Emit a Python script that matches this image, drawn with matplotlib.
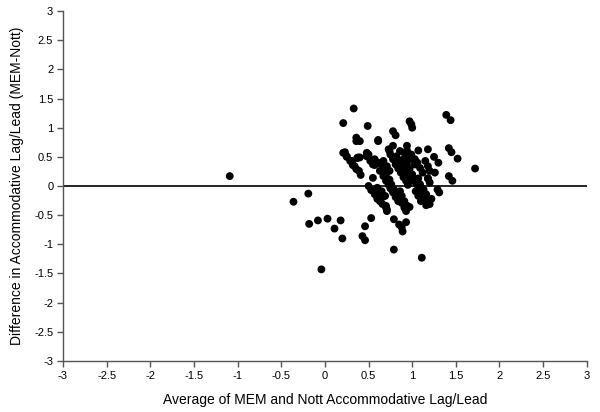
import matplotlib
matplotlib.use("Agg")
import matplotlib.pyplot as plt

plt.rcParams['font.family'] = ['Liberation Sans', 'DejaVu Sans']

# Average of MEM and Nott (x) and difference MEM-Nott (y)
avg_vals = [
    -1.09, -0.36, -0.19, -0.18, -0.08, 0.03, 0.18, 0.11, 0.20, -0.04,
    0.33, 0.21, 0.36, 0.36, 0.23, 0.25, 0.29, 0.32, 0.36, 0.37,
    0.21, 0.25, 0.31, 0.34, 0.39, 0.41, 0.38, 0.50, 0.52, 0.55,
    0.48, 0.48, 0.40, 0.40, 0.55, 0.57, 0.55, 0.57, 0.61, 0.61,
    0.49, 0.61, 0.78, 0.81, 0.97, 0.99, 1.00, 0.94, 0.94, 0.78,
    1.07, 1.18, 1.39, 1.44, 1.42, 1.45, 1.52, 1.72, 1.25, 1.30,
    1.26, 1.42, 1.46, 1.18, 1.07,
    0.53, 0.46, 0.43, 0.46, 0.79, 0.85, 0.88, 0.89, 0.93, 0.79, 1.11,
    1.29, 1.31, 1.22, 1.16, 0.70, 0.71, 0.94, 0.97,
    0.50, 0.53, 0.57, 0.60, 0.63, 0.66, 0.70, 0.71, 0.65,
    0.65, 0.68, 0.70, 0.74, 0.76, 0.79, 0.82, 0.84, 0.88, 0.91, 0.93,
    0.74, 0.82, 0.86, 0.90, 0.94, 0.97, 1.01, 1.05,
    0.86, 0.92, 0.97, 1.03,
    0.90, 0.94, 0.97, 1.00, 1.03, 1.06, 1.09, 1.12, 1.15,
    0.99, 1.03, 1.06, 1.09, 1.12,
    0.86, 0.88, 0.91, 0.94,
    0.63, 0.67, 0.70, 0.73, 0.75, 0.78, 0.81, 0.84,
    0.73, 0.75, 0.78, 0.81, 0.84, 0.87, 0.90, 0.93, 0.95,
    0.67, 0.71, 0.74,
    0.60, 0.63, 0.66,
    1.04, 1.07, 1.10, 0.69,
    1.15, 1.18, 1.20, 1.18, 1.20,
    1.09, 1.13, 1.16, 1.18, 1.20,
]
diff_vals = [
    0.17, -0.27, -0.13, -0.65, -0.59, -0.56, -0.59, -0.73, -0.90, -1.43,
    1.33, 1.08, 0.83, 0.77, 0.58, 0.51, 0.43, 0.36, 0.29, 0.48,
    0.57, 0.50, 0.43, 0.34, 0.26, 0.19, 0.49, 0.54, 0.43, 0.37,
    0.57, 0.51, 0.77, 0.49, 0.42, 0.36, 0.14, 0.46, 0.40, 0.79,
    1.03, 0.77, 0.94, 0.87, 1.11, 1.06, 1.00, 0.69, 0.61, 0.69,
    0.61, 0.63, 1.22, 1.13, 0.65, 0.58, 0.47, 0.30, 0.50, 0.40,
    0.23, 0.17, 0.09, 0.13, 0.13,
    -0.55, -0.69, -0.86, -0.93, -0.57, -0.66, -0.71, -0.78, -0.62, -1.09, -1.23,
    -0.06, -0.11, -0.22, -0.33, -0.34, -0.40, -0.34, -0.36,
    0.00, -0.07, -0.14, -0.22, -0.26, -0.31, -0.37, -0.43, -0.09,
    0.37, 0.29, 0.20, 0.11, 0.03, -0.06, -0.13, -0.20, -0.29, -0.37, -0.43,
    0.60, 0.51, 0.43, 0.34, 0.26, 0.17, 0.09, 0.03,
    0.60, 0.54, 0.46, 0.37,
    0.46, 0.37, 0.29, 0.20, 0.11, 0.03, -0.06, -0.14, -0.23,
    0.54, 0.46, 0.40, 0.31, 0.23,
    -0.09, -0.17, -0.26, -0.34,
    0.26, 0.17, 0.09, 0.02, -0.04, -0.11, -0.19, -0.26,
    0.63, 0.54, 0.46, 0.37, 0.30, 0.23, 0.15, 0.09, 0.02,
    0.43, 0.34, 0.26,
    -0.03, -0.11, -0.19,
    -0.09, -0.17, -0.26, -0.17,
    0.43, 0.34, 0.26, 0.13, 0.06,
    0.03, -0.06, -0.14, -0.23, -0.31,
]

ticks = [-3, -2.5, -2, -1.5, -1, -0.5, 0, 0.5, 1, 1.5, 2, 2.5, 3]
tick_labels = ['-3', '-2.5', '-2', '-1.5', '-1', '-0.5', '0', '0.5', '1', '1.5', '2', '2.5', '3']

fig = plt.figure(figsize=(6.0, 4.12), dpi=100)
ax = fig.add_axes([0.105, 0.124, 0.873, 0.849])

ax.axhline(0, color='black', linewidth=1.2, zorder=1)
ax.scatter(avg_vals, diff_vals, s=32, color='black', edgecolors='none', zorder=2)

ax.set_xlim(-3, 3)
ax.set_ylim(-3, 3)
ax.set_xticks(ticks)
ax.set_xticklabels(tick_labels)
ax.set_yticks(ticks)
ax.set_yticklabels(tick_labels)

for s in ['top', 'right']:
    ax.spines[s].set_visible(False)
for s in ['left', 'bottom']:
    ax.spines[s].set_color('#555555')
    ax.spines[s].set_linewidth(1.0)
ax.tick_params(direction='out', length=4, width=1, colors='#555555',
               labelcolor='black', labelsize=8, pad=3)

ax.set_xlabel('Average of MEM and Nott Accommodative Lag/Lead', fontsize=10, labelpad=9)
ax.set_ylabel('Difference in Accommodative Lag/Lead (MEM-Nott)', fontsize=10, labelpad=7)

fig.savefig('out.png', dpi=100)
